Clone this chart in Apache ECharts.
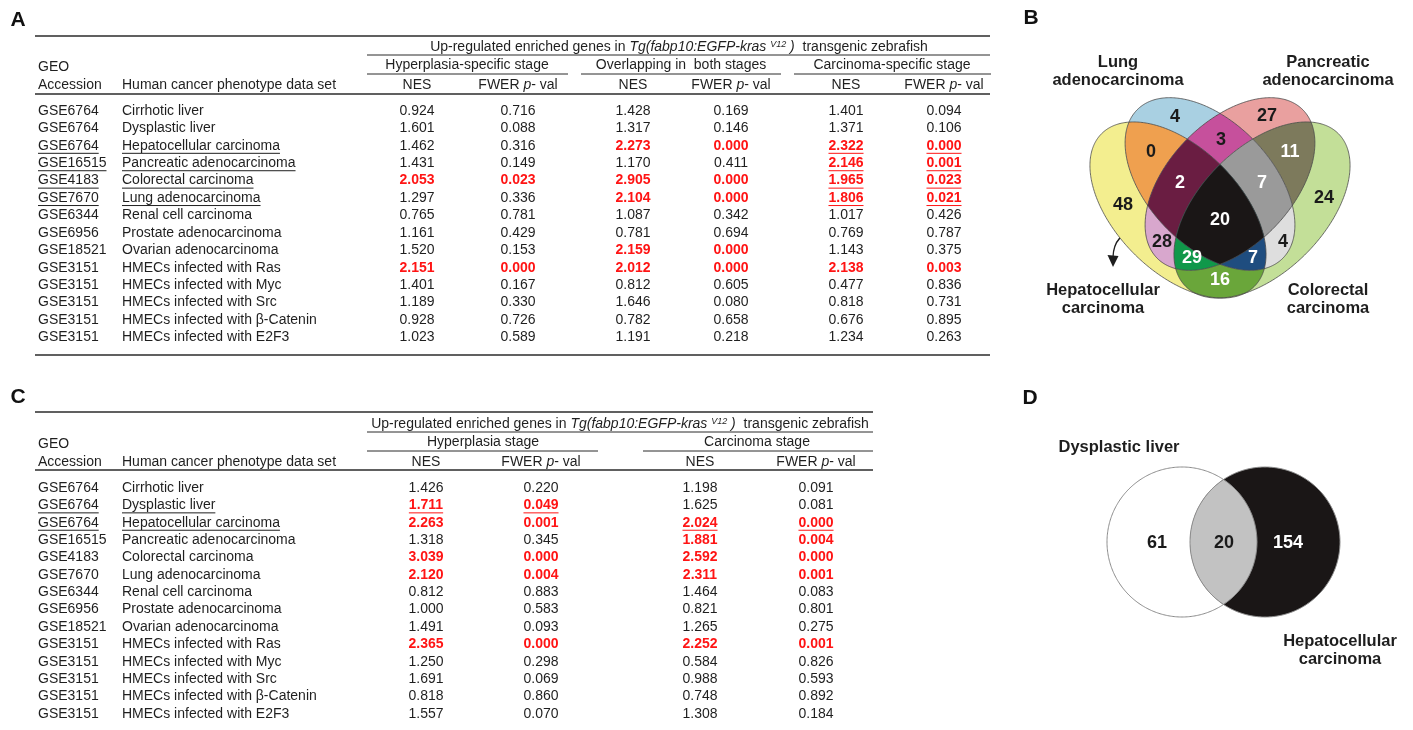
<!DOCTYPE html>
<html>
<head>
<meta charset="utf-8">
<title>GSEA of zebrafish kras tumour signatures</title>
<script src="https://cdn.jsdelivr.net/npm/echarts@6/dist/echarts.min.js"></script>
<style>
  html, body { margin: 0; padding: 0; background: #ffffff; }
  #chart { width: 1413px; height: 730px; }
</style>
</head>
<body>
<div id="chart"></div>
<script>
// ---------------------------------------------------------------------------
// Data: human cancer gene sets tested against the zebrafish signatures
// ---------------------------------------------------------------------------
const accessions = ['GSE6764', 'GSE6764', 'GSE6764', 'GSE16515', 'GSE4183', 'GSE7670', 'GSE6344',
  'GSE6956', 'GSE18521', 'GSE3151', 'GSE3151', 'GSE3151', 'GSE3151', 'GSE3151'];
const phenotypes = ['Cirrhotic liver', 'Dysplastic liver', 'Hepatocellular carcinoma',
  'Pancreatic adenocarcinoma', 'Colorectal carcinoma', 'Lung adenocarcinoma', 'Renal cell carcinoma',
  'Prostate adenocarcinoma', 'Ovarian adenocarcinoma', 'HMECs infected with Ras',
  'HMECs infected with Myc', 'HMECs infected with Src', 'HMECs infected with \u03b2-Catenin',
  'HMECs infected with E2F3'];

// Panel A: stage-specific / overlapping signatures
const hypNesA  = [0.924, 1.601, 1.462, 1.431, 2.053, 1.297, 0.765, 1.161, 1.520, 2.151, 1.401, 1.189, 0.928, 1.023];
const hypFwerA = [0.716, 0.088, 0.316, 0.149, 0.023, 0.336, 0.781, 0.429, 0.153, 0.000, 0.167, 0.330, 0.726, 0.589];
const ovlNesA  = [1.428, 1.317, 2.273, 1.170, 2.905, 2.104, 1.087, 0.781, 2.159, 2.012, 0.812, 1.646, 0.782, 1.191];
const ovlFwerA = [0.169, 0.146, 0.000, 0.411, 0.000, 0.000, 0.342, 0.694, 0.000, 0.000, 0.605, 0.080, 0.658, 0.218];
const carNesA  = [1.401, 1.371, 2.322, 2.146, 1.965, 1.806, 1.017, 0.769, 1.143, 2.138, 0.477, 0.818, 0.676, 1.234];
const carFwerA = [0.094, 0.106, 0.000, 0.001, 0.023, 0.021, 0.426, 0.787, 0.375, 0.003, 0.836, 0.731, 0.895, 0.263];
// [row, stage] pairs picked for the Venn comparison in panel B
const pickedA = [[2, 2], [3, 2], [4, 2], [5, 2]];

// Panel C: whole-stage signatures
const hypNesC  = [1.426, 1.711, 2.263, 1.318, 3.039, 2.120, 0.812, 1.000, 1.491, 2.365, 1.250, 1.691, 0.818, 1.557];
const hypFwerC = [0.220, 0.049, 0.001, 0.345, 0.000, 0.004, 0.883, 0.583, 0.093, 0.000, 0.298, 0.069, 0.860, 0.070];
const carNesC  = [1.198, 1.625, 2.024, 1.881, 2.592, 2.311, 1.464, 0.821, 1.265, 2.252, 0.584, 0.988, 0.748, 1.308];
const carFwerC = [0.091, 0.081, 0.000, 0.004, 0.000, 0.001, 0.083, 0.801, 0.275, 0.001, 0.826, 0.593, 0.892, 0.184];
// [row, stage] pairs picked for the Venn comparison in panel D
const pickedC = [[1, 0], [2, 1]];

// Panel B: leading-edge gene overlaps (bit 1 HCC, 2 lung, 4 pancreatic, 8 colorectal)
const vennBSets   = ['Hepatocellular carcinoma', 'Lung adenocarcinoma', 'Pancreatic adenocarcinoma', 'Colorectal carcinoma'];
const vennBMasks  = [1, 2, 4, 8, 3, 6, 12, 9, 5, 10, 7, 14, 13, 11, 15];
const vennBCounts = [48, 4, 27, 24, 0, 3, 11, 16, 28, 4, 2, 7, 29, 7, 20];

// Panel D: overlap of dysplastic liver and HCC leading-edge genes
const vennDSets   = ['Dysplastic liver', 'Hepatocellular carcinoma'];
const vennDMasks  = [1, 3, 2];
const vennDCounts = [61, 20, 154];

const SIG_LEVEL = 0.05;

// ---------------------------------------------------------------------------
// Styling and layout
// ---------------------------------------------------------------------------
const FONT = '"Liberation Sans", Arial, Helvetica, sans-serif';
const INK = '#1f1f1f';
const RED = '#ff1414';
const RULE = '#2b2b2b';
const FS = 14;

const layoutA = { left: 35, top: 102.3, width: 955, height: 243.7,
  acc: 3, name: 87, nes: [382, 598, 811], fwer: [483, 696, 909] };
const layoutC = { left: 35, top: 479.3, width: 955, height: 243.3,
  acc: 3, name: 87, nes: [391, 665], fwer: [506, 781] };

// Venn geometry, in the units of each Venn grid (1 unit = 1 px)
const vennBGrid = { left: 1080, top: 90, width: 280, height: 220 };
const vennBShapes = [
  { cx: 98,  cy: 120, a: 108, b: 62, rot: 45 },   // hepatocellular
  { cx: 130, cy: 94,  a: 104, b: 62, rot: 46 },   // lung
  { cx: 150, cy: 94,  a: 104, b: 62, rot: 134 },  // pancreatic
  { cx: 182, cy: 120, a: 108, b: 62, rot: 135 }   // colorectal
];
const vennBLabelPos = { 1: [43, 115], 2: [95, 27], 4: [187, 26], 8: [244, 108], 3: [71, 62],
  6: [141, 50], 12: [210, 62], 9: [140, 190], 5: [82, 152], 10: [203, 152], 7: [100, 93],
  14: [182, 93], 13: [112, 168], 11: [173, 168], 15: [140, 130] };
const vennBColors = { 1: '#f3ee8f', 2: '#a9d0e2', 4: '#e9a09f', 8: '#c3df98', 3: '#efa04f',
  6: '#c6509c', 12: '#7d7a5c', 9: '#6aa63a', 5: '#d8a7cd', 10: '#dedede', 7: '#6a1d42',
  14: '#9a9a9a', 13: '#10984a', 11: '#1f4d7f', 15: '#1a1616' };
const vennBLight = { 7: 1, 14: 1, 12: 1, 13: 1, 11: 1, 15: 1, 9: 1 };

const vennDGrid = { left: 1090, top: 450, width: 260, height: 190 };
const vennDShapes = [
  { cx: 92,  cy: 92, a: 75, b: 75, rot: 0 },
  { cx: 175, cy: 92, a: 75, b: 75, rot: 0 }
];
const vennDLabelPos = { 1: [67, 93], 3: [134, 93], 2: [198, 93] };
const vennDColors = { 1: '#ffffff', 3: '#c2c2c2', 2: '#1a1616' };
const vennDLight = { 2: 1 };

// ---------------------------------------------------------------------------
// Helpers
// ---------------------------------------------------------------------------
const measureCtx = document.createElement('canvas').getContext('2d');
function textWidth(s, size, weight) {
  measureCtx.font = weight + ' ' + size + 'px ' + FONT;
  return measureCtx.measureText(s).width;
}
function textEl(x, y, text, o) {
  o = o || {};
  const align = o.align || 'center';
  return {
    type: 'text', x: x, y: y, silent: true, z2: o.z2 || 10,
    style: {
      text: text, fontSize: o.size || FS, fontFamily: FONT, fontWeight: o.weight || 'normal',
      fontStyle: o.italic ? 'italic' : 'normal', fill: o.fill || INK,
      align: align, verticalAlign: 'middle', textAlign: align, textVerticalAlign: 'middle',
      rich: o.rich
    }
  };
}
function ruleEl(x1, x2, y, w) {
  return { type: 'line', silent: true, shape: { x1: x1, y1: y, x2: x2, y2: y },
    style: { stroke: RULE, lineWidth: w || 1 } };
}
const popcount = m => { let c = 0; while (m) { c += m & 1; m >>= 1; } return c; };

// ---------------------------------------------------------------------------
// Table rows (one custom item per gene set, placed on a category axis)
// ---------------------------------------------------------------------------
function tableSeries(gridIndex, lay, stages, picked) {
  const pickedRows = new Set(picked.map(p => p[0]));
  return {
    type: 'custom', xAxisIndex: gridIndex, yAxisIndex: gridIndex, z: 5, silent: true,
    data: phenotypes.map((p, i) => [0, i]),
    encode: { x: 0, y: 1 },
    renderItem: function (params, api) {
      const i = params.dataIndex;
      const kids = [];
      const put = (text, xv, align, bold, color, underline) => {
        const pt = api.coord([xv, i]);
        kids.push(textEl(pt[0], pt[1], text, { align: align, weight: bold ? 'bold' : 'normal', fill: color }));
        if (underline) {
          const w = textWidth(text, FS, bold ? 'bold' : 'normal');
          const x1 = align === 'left' ? pt[0] : pt[0] - w / 2;
          kids.push({ type: 'line', shape: { x1: x1, y1: pt[1] + 7.5, x2: x1 + w, y2: pt[1] + 7.5 },
            style: { stroke: color, lineWidth: 1 } });
        }
      };
      const mark = pickedRows.has(i);
      put(accessions[i], lay.acc, 'left', false, INK, mark);
      put(phenotypes[i], lay.name, 'left', false, INK, mark);
      stages.forEach((s, k) => {
        const sig = s.fwer[i] < SIG_LEVEL;
        const ul = picked.some(p => p[0] === i && p[1] === k);
        const col = sig ? RED : INK;
        put(s.nes[i].toFixed(3), lay.nes[k], 'center', sig, col, ul);
        put(s.fwer[i].toFixed(3), lay.fwer[k], 'center', sig, col, ul);
      });
      return { type: 'group', children: kids };
    }
  };
}

// ---------------------------------------------------------------------------
// Venn regions: the intersection of convex ellipses is convex, so each set
// combination is filled as one polygon, painted from single sets upwards.
// ---------------------------------------------------------------------------
function ellipsePoint(e, t) {
  const r = e.rot * Math.PI / 180, c = Math.cos(r), s = Math.sin(r);
  const u = e.a * Math.cos(t), v = e.b * Math.sin(t);
  return [e.cx + u * c - v * s, e.cy + u * s + v * c];
}
function insideEllipse(e, p) {
  const r = e.rot * Math.PI / 180, c = Math.cos(r), s = Math.sin(r);
  const dx = p[0] - e.cx, dy = p[1] - e.cy;
  const u = dx * c + dy * s, v = -dx * s + dy * c;
  return (u * u) / (e.a * e.a) + (v * v) / (e.b * e.b) <= 1 + 1e-9;
}
function intersectionPolygon(shapes, mask) {
  const members = shapes.filter((_, k) => mask & (1 << k));
  const pts = [];
  const N = 1440;
  members.forEach(e => {
    for (let j = 0; j < N; j++) {
      const p = ellipsePoint(e, j / N * 2 * Math.PI);
      if (members.every(o => o === e || insideEllipse(o, p))) pts.push(p);
    }
  });
  let mx = 0, my = 0;
  pts.forEach(p => { mx += p[0]; my += p[1]; });
  mx /= pts.length; my /= pts.length;
  pts.sort((p, q) => Math.atan2(p[1] - my, p[0] - mx) - Math.atan2(q[1] - my, q[0] - mx));
  return pts;
}
function vennSeries(gridIndex, shapes, masks, counts, colors, labelPos, light, outline) {
  const order = masks.map((m, i) => i).sort((p, q) => popcount(masks[p]) - popcount(masks[q]));
  const polys = {};
  masks.forEach(m => { polys[m] = intersectionPolygon(shapes, m); });
  const items = order.map(i => [labelPos[masks[i]][0], labelPos[masks[i]][1], counts[i], masks[i]]);
  const base = { type: 'custom', xAxisIndex: gridIndex, yAxisIndex: gridIndex, silent: true,
    encode: { x: 0, y: 1 } };
  return [
    Object.assign({}, base, {
      z: 2, data: items,
      renderItem: function (params, api) {
        const m = api.value(3);
        return { type: 'polygon', z2: popcount(m),
          shape: { points: polys[m].map(p => api.coord(p)) },
          style: { fill: colors[m], stroke: null } };
      }
    }),
    Object.assign({}, base, {
      z: 3, data: shapes.map((s, k) => [s.cx, s.cy, k]),
      renderItem: function (params, api) {
        const e = shapes[api.value(2)];
        const pts = [];
        for (let j = 0; j < 360; j++) pts.push(api.coord(ellipsePoint(e, j / 360 * 2 * Math.PI)));
        return { type: 'polygon', shape: { points: pts },
          style: { fill: 'none', stroke: outline.color, lineWidth: outline.width } };
      }
    }),
    Object.assign({}, base, {
      z: 4, data: items,
      renderItem: function (params, api) {
        const pt = api.coord([api.value(0), api.value(1)]);
        const m = api.value(3);
        return textEl(pt[0], pt[1], String(api.value(2)),
          { size: 18, weight: 'bold', fill: light[m] ? '#ffffff' : '#1a1a1a' });
      }
    })
  ];
}

// ---------------------------------------------------------------------------
// Static headings, rules and set names
// ---------------------------------------------------------------------------
const richHead = {
  n: { fontSize: FS, fontFamily: FONT, fill: INK },
  i: { fontSize: FS, fontFamily: FONT, fontStyle: 'italic', fill: INK },
  s: { fontSize: 9, fontFamily: FONT, fontStyle: 'italic', fill: INK, verticalAlign: 'top' }
};
const upHead = '{n|Up-regulated enriched genes in }{i|Tg(fabp10:EGFP-kras }{s|V12}{i| )}{n|  transgenic zebrafish}';
const fwerHead = '{n|FWER }{i|p}{n|- val}';

const graphics = [];
// panel letters
[['A', 18, 20], ['B', 1031, 18], ['C', 18, 397], ['D', 1030, 398]].forEach(l =>
  graphics.push(textEl(l[1], l[2], l[0], { size: 21, weight: 'bold', fill: '#111' })));

// table A headings
graphics.push(ruleEl(35, 990, 36, 1.6), ruleEl(367, 990, 55, 1), ruleEl(367, 568, 74, 1),
  ruleEl(581, 781, 74, 1), ruleEl(794, 991, 74, 1), ruleEl(35, 990, 94, 1.6), ruleEl(35, 990, 355, 1.6));
graphics.push(textEl(679, 47, upHead, { rich: richHead }));
graphics.push(textEl(467, 65, 'Hyperplasia-specific stage'));
graphics.push(textEl(681, 65, 'Overlapping in  both stages'));
graphics.push(textEl(892, 65, 'Carcinoma-specific stage'));
graphics.push(textEl(layoutA.left + layoutA.acc, 67, 'GEO', { align: 'left' }));
graphics.push(textEl(layoutA.left + layoutA.acc, 85, 'Accession', { align: 'left' }));
graphics.push(textEl(layoutA.left + layoutA.name, 85, 'Human cancer phenotype data set', { align: 'left' }));
layoutA.nes.forEach((x, k) => {
  graphics.push(textEl(layoutA.left + x, 85, 'NES'));
  graphics.push(textEl(layoutA.left + layoutA.fwer[k], 85, fwerHead, { rich: richHead }));
});

// table C headings
graphics.push(ruleEl(35, 873, 412, 1.6), ruleEl(367, 873, 432, 1), ruleEl(367, 598, 451, 1),
  ruleEl(643, 873, 451, 1), ruleEl(35, 873, 470, 1.6));
graphics.push(textEl(620, 424, upHead, { rich: richHead }));
graphics.push(textEl(483, 442, 'Hyperplasia stage'));
graphics.push(textEl(757, 442, 'Carcinoma stage'));
graphics.push(textEl(layoutC.left + layoutC.acc, 444, 'GEO', { align: 'left' }));
graphics.push(textEl(layoutC.left + layoutC.acc, 462, 'Accession', { align: 'left' }));
graphics.push(textEl(layoutC.left + layoutC.name, 462, 'Human cancer phenotype data set', { align: 'left' }));
layoutC.nes.forEach((x, k) => {
  graphics.push(textEl(layoutC.left + x, 462, 'NES'));
  graphics.push(textEl(layoutC.left + layoutC.fwer[k], 462, fwerHead, { rich: richHead }));
});

// Venn B set names
const setLabel = (x, y, lines) => lines.forEach((t, k) =>
  graphics.push(textEl(x, y + k * 18, t, { size: 16.5, weight: 'bold', fill: '#1e1e1e' })));
setLabel(1118, 62, ['Lung', 'adenocarcinoma']);
setLabel(1328, 62, ['Pancreatic', 'adenocarcinoma']);
setLabel(1103, 290, ['Hepatocellular', 'carcinoma']);
setLabel(1328, 290, ['Colorectal', 'carcinoma']);
// arrow pointing from the HCC-only region to its name
graphics.push({ type: 'bezierCurve', silent: true,
  shape: { x1: 1137, y1: 231, cpx1: 1114, cpy1: 233, x2: 1113, y2: 257 },
  style: { stroke: '#1e1e1e', lineWidth: 1.3, fill: 'none' } });
graphics.push({ type: 'polygon', silent: true,
  shape: { points: [[1107.5, 255], [1118.5, 256], [1113, 267]] }, style: { fill: '#1e1e1e' } });

// Venn D set names
setLabel(1119, 447, ['Dysplastic liver']);
setLabel(1340, 641, ['Hepatocellular', 'carcinoma']);

// ---------------------------------------------------------------------------
// Chart
// ---------------------------------------------------------------------------
const hiddenValue = (min, max, extra) => Object.assign({ type: 'value', min: min, max: max, show: false,
  splitLine: { show: false } }, extra || {});
const hiddenRows = gi => ({ type: 'category', gridIndex: gi, data: phenotypes, inverse: true,
  boundaryGap: true, show: false });

const option = {
  animation: false,
  backgroundColor: '#ffffff',
  textStyle: { fontFamily: FONT },
  grid: [
    { left: layoutA.left, top: layoutA.top, width: layoutA.width, height: layoutA.height, show: false },
    { left: layoutC.left, top: layoutC.top, width: layoutC.width, height: layoutC.height, show: false },
    Object.assign({ show: false }, vennBGrid),
    Object.assign({ show: false }, vennDGrid)
  ],
  xAxis: [
    hiddenValue(0, layoutA.width, { gridIndex: 0 }),
    hiddenValue(0, layoutC.width, { gridIndex: 1 }),
    hiddenValue(0, vennBGrid.width, { gridIndex: 2 }),
    hiddenValue(0, vennDGrid.width, { gridIndex: 3 })
  ],
  yAxis: [
    hiddenRows(0),
    hiddenRows(1),
    hiddenValue(0, vennBGrid.height, { gridIndex: 2, inverse: true }),
    hiddenValue(0, vennDGrid.height, { gridIndex: 3, inverse: true })
  ],
  graphic: { elements: graphics },
  series: [
    tableSeries(0, layoutA, [
      { nes: hypNesA, fwer: hypFwerA },
      { nes: ovlNesA, fwer: ovlFwerA },
      { nes: carNesA, fwer: carFwerA }
    ], pickedA),
    tableSeries(1, layoutC, [
      { nes: hypNesC, fwer: hypFwerC },
      { nes: carNesC, fwer: carFwerC }
    ], pickedC)
  ].concat(
    vennSeries(2, vennBShapes, vennBMasks, vennBCounts, vennBColors, vennBLabelPos, vennBLight,
      { color: '#4a4a4a', width: 0.8 }),
    vennSeries(3, vennDShapes, vennDMasks, vennDCounts, vennDColors, vennDLabelPos, vennDLight,
      { color: '#8c8c8c', width: 1 })
  )
};

const chart = echarts.init(document.getElementById('chart'), null, { renderer: 'canvas', width: 1413, height: 730 });
chart.setOption(option);
</script>
</body>
</html>
